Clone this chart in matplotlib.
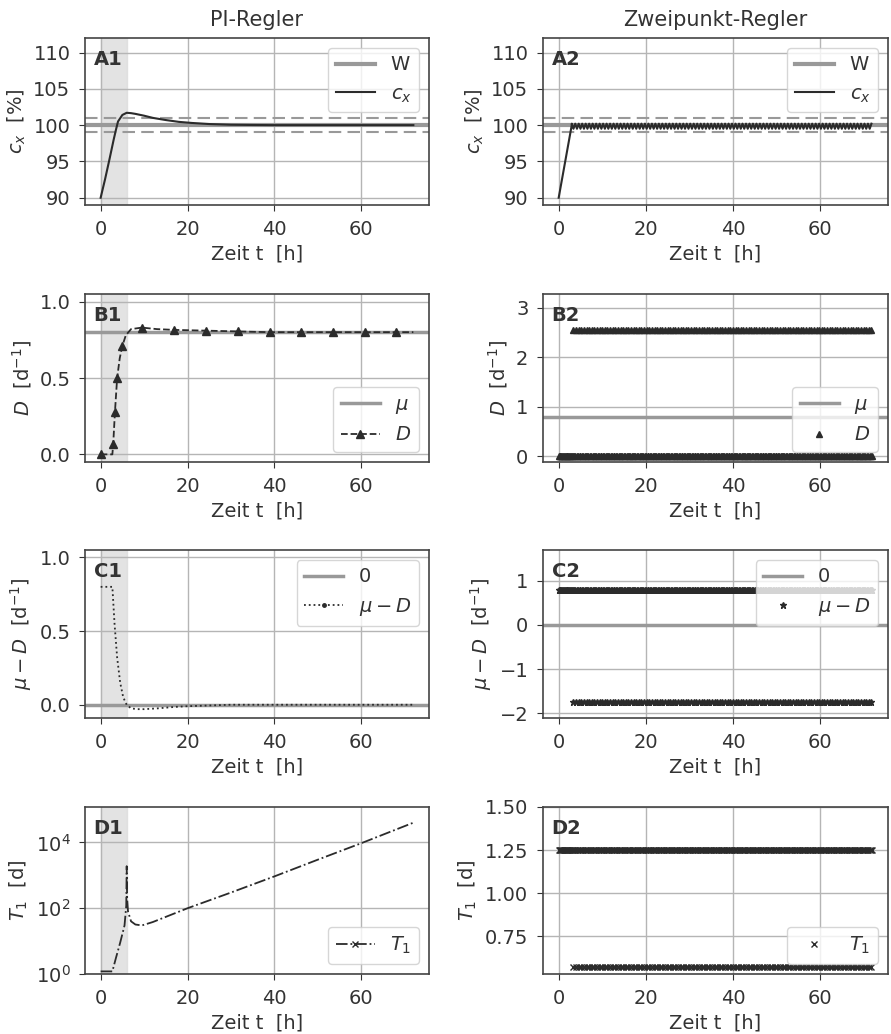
import matplotlib
matplotlib.use("Agg")
import matplotlib.pyplot as plt
from matplotlib.lines import Line2D
import numpy as np

plt.rcParams['font.family'] = ['DejaVu Sans']
plt.rcParams['font.size'] = 14
plt.rcParams['text.color'] = '#333333'
plt.rcParams['axes.labelcolor'] = '#333333'
plt.rcParams['xtick.color'] = '#333333'
plt.rcParams['ytick.color'] = '#333333'
plt.rcParams['mathtext.fontset'] = 'dejavusans'

# ---- PI-Regler (left column) ----
t_cx = [0, 1, 2, 3, 3.5, 4, 5, 6, 7, 8, 10, 12, 15, 18, 21, 25, 30, 35, 40, 50, 60, 72]
cx_pi = [90, 92.5, 95.2, 98.0, 99.3, 100.5, 101.4, 101.7, 101.65, 101.55, 101.3, 101.0,
         100.7, 100.45, 100.3, 100.15, 100.05, 100.02, 100.0, 100.0, 100.0, 100.0]

t_D = [0, 2.7, 2.9, 3.3, 3.8, 4.4, 5.0, 5.8, 7.0, 9.5, 13, 17, 24.3, 31.6, 38.9, 46.2,
       53.5, 60.8, 68.1, 72]
D_pi = [0, 0, 0.07, 0.28, 0.50, 0.63, 0.71, 0.78, 0.82, 0.83, 0.82, 0.815, 0.81, 0.805,
        0.80, 0.80, 0.80, 0.80, 0.80, 0.80]
D_marks = [0, 2, 3, 4, 6, 9, 11, 12, 13, 14, 15, 16, 17, 18]

t_mud = [0, 2.7, 3.2, 3.8, 4.5, 5.2, 6.0, 7.0, 8.5, 10, 13, 17, 20, 25, 30, 40, 72]
mud_pi = [0.80, 0.80, 0.55, 0.32, 0.15, 0.05, 0.0, -0.025, -0.03, -0.03, -0.025, -0.015,
          -0.01, -0.005, 0.0, 0.0, 0.0]

t_T1 = [0, 2.7, 3.5, 4.5, 5.5, 5.9, 6.0, 6.1, 6.3, 7.0, 8.0, 9.5, 12, 20, 30, 40, 50, 60, 72]
T1_pi = [1.2, 1.2, 3, 9, 30, 120, 1900, 200, 80, 40, 32, 30, 38, 100, 300, 930, 3000, 9500, 40000]

# ---- Zweipunkt-Regler (right column) ----
t_cx_zp = [0, 3]
cx_zp_start = [90, 100]
cx_zp_high = 100.2
cx_zp_low = 99.5
mu = 0.8
D_high = 2.55
mud_high = 0.8
mud_low = -1.75
T1_high = 1.25
T1_low = 0.57
switch_pattern = [0, 0, 1]   # off, off, on
t_switch_start = 3
dt_zp = 0.2

w_set = 100
w_band = [99, 101]
t_span = [0, 6]

# dense sampling of the switching controller
t_zp = np.arange(0, 72.01, dt_zp)
state = np.array([0 if t < t_switch_start else switch_pattern[i % len(switch_pattern)]
                  for i, t in enumerate(t_zp)])
D_zp = np.where(state == 1, D_high, 0.0)
mud_zp = np.where(state == 1, mud_low, mud_high)
T1_zp = np.where(state == 1, T1_low, T1_high)
t_osc = np.arange(3, 72.01, 0.4)
cx_osc = [cx_zp_high if i % 2 == 0 else cx_zp_low for i in range(len(t_osc))]
t_cx2 = list(t_cx_zp) + list(t_osc)
cx_zp = list(cx_zp_start) + cx_osc

gray = '#999999'
dark = '#2b2b2b'
fs = 14

fig = plt.figure(figsize=(8.91, 10.34), dpi=100)
W, H = 891, 1034


def make_ax(x0, x1, y0, y1):
    ax = fig.add_axes([x0 / W, 1 - y1 / H, (x1 - x0) / W, (y1 - y0) / H])
    ax.grid(True, color='#b5b5b5', linewidth=1.0)
    ax.set_axisbelow(True)
    for s in ax.spines.values():
        s.set_color('#444444')
        s.set_linewidth(1.2)
    ax.tick_params(colors='#333333', length=4.5, pad=6, labelsize=fs)
    ax.set_xlim(-3.6, 75.6)
    ax.set_xticks([0, 20, 40, 60])
    ax.set_xlabel('Zeit t  [h]', labelpad=4)
    return ax


def tag(ax, s):
    ax.text(0.025, 0.93, s, transform=ax.transAxes, fontweight='bold', va='top', fontsize=fs)


rows = [(38, 205), (294, 462), (550, 718), (807, 974)]
L = (85, 429)
R = (543, 888)

# A1
ax = make_ax(L[0], L[1], *rows[0])
ax.axvspan(*t_span, color='#dcdcdc', alpha=0.8, zorder=0)
ax.axhline(w_set, color=gray, lw=3, label='W')
for b in w_band:
    ax.axhline(b, color=gray, lw=1.5, ls='--', dashes=(6, 3))
ax.plot(t_cx, cx_pi, color=dark, lw=1.5, label='$c_x$')
ax.set_ylim(89, 112)
ax.set_yticks([90, 95, 100, 105, 110])
ax.set_ylabel('$c_x$  [%]')
ax.legend(loc='upper right', fontsize=fs)
tag(ax, 'A1')
ax.set_title('PI-Regler', fontsize=15, pad=9)

# A2
ax = make_ax(R[0], R[1], *rows[0])
ax.axhline(w_set, color=gray, lw=3, label='W')
for b in w_band:
    ax.axhline(b, color=gray, lw=1.5, ls='--', dashes=(6, 3))
ax.plot(t_cx2, cx_zp, color=dark, lw=1.5, label='$c_x$')
ax.set_ylim(89, 112)
ax.set_yticks([90, 95, 100, 105, 110])
ax.set_ylabel('$c_x$  [%]')
ax.legend(loc='upper right', fontsize=fs)
tag(ax, 'A2')
ax.set_title('Zweipunkt-Regler', fontsize=15, pad=9)

# B1
ax = make_ax(L[0], L[1], *rows[1])
ax.axvspan(*t_span, color='#dcdcdc', alpha=0.8, zorder=0)
ax.axhline(mu, color=gray, lw=2.5, label=r'$\mu$')
ax.plot(t_D, D_pi, color=dark, lw=1.3, ls='--', marker='^', ms=6,
        markevery=D_marks, label='$D$')
ax.set_ylim(-0.05, 1.05)
ax.set_yticks([0.0, 0.5, 1.0])
ax.set_ylabel('$D$  [d$^{-1}$]')
ax.legend(loc='lower right', fontsize=fs)
tag(ax, 'B1')

# B2
ax = make_ax(R[0], R[1], *rows[1])
ax.axhline(mu, color=gray, lw=2.5, label=r'$\mu$')
ax.plot(t_zp, D_zp, color=dark, ls='none', marker='^', ms=5, label='$D$')
ax.set_ylim(-0.12, 3.28)
ax.set_yticks([0, 1, 2, 3])
ax.set_ylabel('$D$  [d$^{-1}$]')
ax.legend(loc='lower right', fontsize=fs)
tag(ax, 'B2')

# C1
ax = make_ax(L[0], L[1], *rows[2])
ax.axvspan(*t_span, color='#dcdcdc', alpha=0.8, zorder=0)
h0 = ax.axhline(0, color=gray, lw=2.5, label='0')
ax.plot(t_mud, mud_pi, color=dark, lw=1.3, ls=':')
h1 = Line2D([], [], color=dark, lw=1.3, ls=':', marker='.', ms=5)
ax.set_ylim(-0.09, 1.05)
ax.set_yticks([0.0, 0.5, 1.0])
ax.set_ylabel(r'$\mu-D$  [d$^{-1}$]')
ax.legend([h0, h1], ['0', r'$\mu-D$'], loc='upper right', fontsize=fs)
tag(ax, 'C1')

# C2
ax = make_ax(R[0], R[1], *rows[2])
ax.axhline(0, color=gray, lw=2.5, label='0')
ax.plot(t_zp, mud_zp, color=dark, ls='none', marker='*', ms=5, label=r'$\mu-D$')
ax.set_ylim(-2.11, 1.7)
ax.set_yticks([-2, -1, 0, 1])
ax.set_ylabel(r'$\mu-D$  [d$^{-1}$]')
ax.legend(loc='upper right', fontsize=fs)
tag(ax, 'C2')

# D1
ax = make_ax(L[0], L[1], *rows[3])
ax.axvspan(*t_span, color='#dcdcdc', alpha=0.8, zorder=0)
ax.plot(t_T1, T1_pi, color=dark, lw=1.3, ls='-.')
h1 = Line2D([], [], color=dark, lw=1.3, ls='-.', marker='x', ms=4)
ax.set_yscale('log')
ax.set_ylim(1, 1.2e5)
ax.set_yticks([1, 1e2, 1e4])
ax.set_ylabel('$T_1$  [d]')
ax.legend([h1], ['$T_1$'], loc='lower right', fontsize=fs)
tag(ax, 'D1')

# D2
ax = make_ax(R[0], R[1], *rows[3])
ax.plot(t_zp, T1_zp, color=dark, ls='none', marker='x', ms=4, label='$T_1$')
ax.set_ylim(0.53, 1.5)
ax.set_yticks([0.75, 1.0, 1.25, 1.5])
ax.set_ylabel('$T_1$  [d]')
ax.legend(loc='lower right', fontsize=fs)
tag(ax, 'D2')

fig.savefig('out.png', dpi=100)
